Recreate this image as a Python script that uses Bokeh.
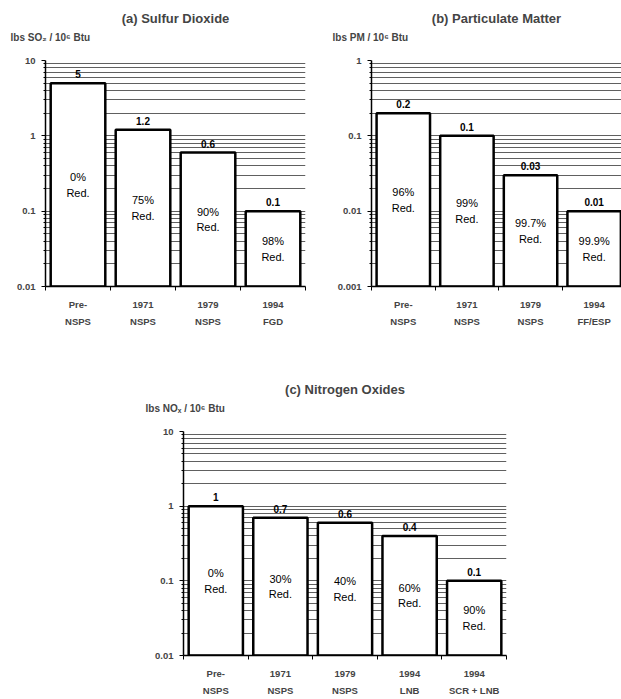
import numpy as np
from bokeh.plotting import figure
from bokeh.layouts import column, row
from bokeh.models import Range1d, FixedTicker, Title, Spacer, ColumnDataSource
from bokeh.core.properties import value
from bokeh.embed import file_html
from bokeh.resources import INLINE

# ---------------- data ----------------
so2_cats = ["Pre-\nNSPS", "1971\nNSPS", "1979\nNSPS", "1994\nFGD"]
so2_vals = [5, 1.2, 0.6, 0.1]
so2_vlabels = ["5", "1.2", "0.6", "0.1"]
so2_red = ["0%", "75%", "90%", "98%"]

pm_cats = ["Pre-\nNSPS", "1971\nNSPS", "1979\nNSPS", "1994\nFF/ESP"]
pm_vals = [0.2, 0.1, 0.03, 0.01]
pm_vlabels = ["0.2", "0.1", "0.03", "0.01"]
pm_red = ["96%", "99%", "99.7%", "99.9%"]

nox_cats = ["Pre-\nNSPS", "1971\nNSPS", "1979\nNSPS", "1994\nLNB", "1994\nSCR + LNB"]
nox_vals = [1, 0.7, 0.6, 0.4, 0.1]
nox_vlabels = ["1", "0.7", "0.6", "0.4", "0.1"]
nox_red = ["0%", "30%", "40%", "60%", "90%"]

FONT = "Liberation Sans"


def panel(cats, vals, vlabels, reds, ymin, ymax, title, ylabel, label_offset,
          xend, width, height, bl, br, bt, bb):
    n = len(cats)
    xs = np.arange(n) + 0.5
    p = figure(width=width, height=height, y_axis_type="log",
               x_range=Range1d(0, xend), y_range=Range1d(ymin, ymax),
               output_backend="svg", toolbar_location=None, title=None,
               min_border_left=bl, min_border_right=br,
               min_border_top=bt, min_border_bottom=bb)
    p.outline_line_color = None
    p.background_fill_color = "white"
    p.border_fill_color = "white"

    # y axis (log) ticks
    d0, d1 = int(round(np.log10(ymin))), int(round(np.log10(ymax)))
    majors = [10.0 ** d for d in range(d0, d1 + 1)]
    minors = [m * 10.0 ** d for d in range(d0, d1) for m in range(2, 10)]
    p.yaxis.ticker = FixedTicker(ticks=majors, minor_ticks=minors)
    p.yaxis.major_label_overrides = {t: f"{t:g}" for t in majors}
    p.yaxis.axis_line_width = 1.5
    p.yaxis.axis_line_color = "black"
    p.yaxis.major_tick_out = 4
    p.yaxis.major_tick_in = 0
    p.yaxis.minor_tick_out = 2
    p.yaxis.minor_tick_in = 0
    p.yaxis.major_label_text_font = FONT
    p.yaxis.major_label_text_font_style = "bold"
    p.yaxis.major_label_text_font_size = "9.5px"
    p.yaxis.major_label_standoff = 6

    p.ygrid.grid_line_color = "#606060"
    p.ygrid.grid_line_width = 1
    p.ygrid.minor_grid_line_color = "#606060"
    p.ygrid.minor_grid_line_width = 1
    p.xgrid.visible = False

    # x axis: labels at centres, ticks at category boundaries
    p.xaxis.ticker = FixedTicker(ticks=list(xs), minor_ticks=list(np.arange(n + 1)))
    p.xaxis.major_label_overrides = {float(x): c for x, c in zip(xs, cats)}
    p.xaxis.axis_line_width = 1.5
    p.xaxis.axis_line_color = "black"
    p.xaxis.major_tick_line_color = None
    p.xaxis.major_tick_out = 0
    p.xaxis.minor_tick_out = 4
    p.xaxis.minor_tick_in = 0
    p.xaxis.minor_tick_line_color = "black"
    p.xaxis.major_label_text_font = FONT
    p.xaxis.major_label_text_font_style = "bold"
    p.xaxis.major_label_text_font_size = "9.5px"
    p.xaxis.major_label_text_line_height = 1.6
    p.xaxis.major_label_standoff = 8

    src = ColumnDataSource(dict(
        x=xs, top=vals, bottom=[ymin] * n, vl=vlabels,
        inner=[r + "\nRed." for r in reds],
        mid=list(np.sqrt(np.array(vals) * ymin)),
    ))
    p.vbar(x="x", top="top", bottom="bottom", width=0.84, source=src,
           fill_color="white", line_color="black", line_width=2.5)
    p.text(x="x", y="top", text="vl", source=src, y_offset=-5,
           text_align="center", text_baseline="bottom",
           text_font=value(FONT), text_font_style="bold",
           text_font_size="10px", text_color="black")
    p.text(x="x", y="mid", text="inner", source=src,
           text_align="center", text_baseline="middle",
           text_font=value(FONT), text_font_size="11px",
           text_line_height=1.3, text_color="black")

    p.add_layout(Title(text=ylabel, align="left", offset=label_offset,
                       text_font=FONT, text_font_style="bold",
                       text_font_size="10px", standoff=35), "above")
    p.add_layout(Title(text=title, align="center",
                       text_font=FONT, text_font_style="bold",
                       text_font_size="13px", standoff=-27), "above")
    return p


pa = panel(so2_cats, so2_vals, so2_vlabels, so2_red, 0.01, 10,
           "(a) Sulfur Dioxide", "lbs SO\u2082 / 10\u2076 Btu", -35,
           4, 310, 364, 45, 5, 60, 78)
pb = panel(pm_cats, pm_vals, pm_vlabels, pm_red, 0.001, 1,
           "(b) Particulate Matter", "lbs PM / 10\u2076 Btu", -39,
           3.93, 311, 364, 61, 0, 60, 78)
pc = panel(nox_cats, nox_vals, nox_vlabels, nox_red, 0.01, 10,
           "(c) Nitrogen Oxides", "lbs NO\u2093 / 10\u2076 Btu", -38,
           5, 420, 335, 43, 54, 67, 41)

layout = column(row(pa, pb), row(Spacer(width=140, height=335), pc))

open("out.html", "w").write(file_html(layout, INLINE))
